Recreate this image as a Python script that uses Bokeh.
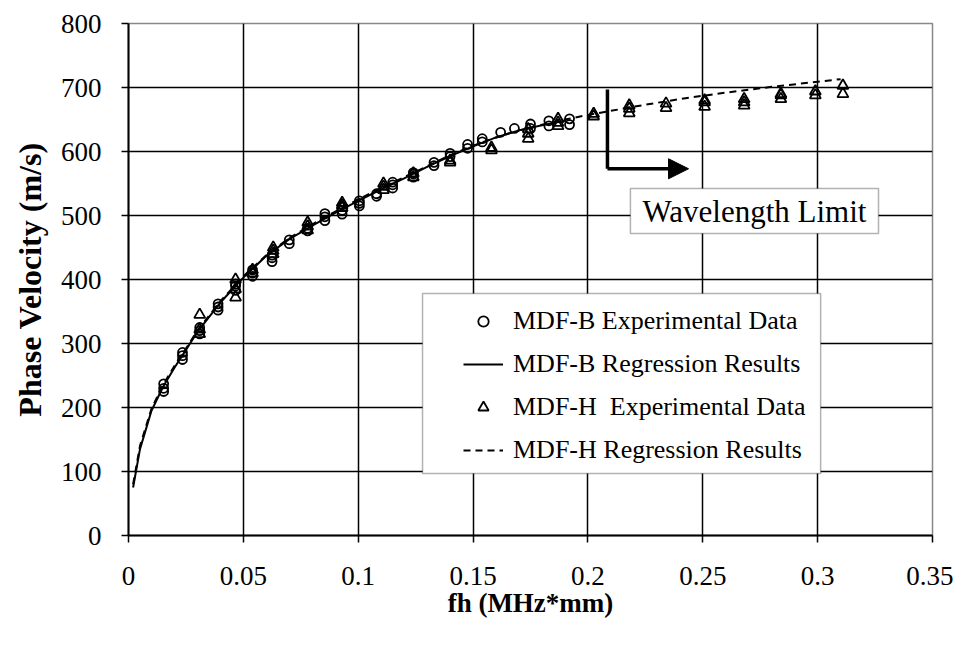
from bokeh.plotting import figure
from bokeh.models import (Range1d, FixedTicker, Legend, LegendItem, BoxAnnotation,
                          Label, Arrow, NormalHead, ColumnDataSource)
from bokeh.embed import file_html
from bokeh.resources import INLINE

FONT = "Liberation Serif, Times New Roman, DejaVu Serif, serif"

# ---- data ----
# MDF-B experimental data (fh in MHz*mm, phase velocity in m/s)
b_fh = [0.0153, 0.0153, 0.0153, 0.0235, 0.0235, 0.0235, 0.031, 0.031, 0.031,
        0.039, 0.039, 0.039, 0.0466, 0.0466, 0.0466, 0.054, 0.054, 0.054,
        0.0625, 0.0625, 0.0625, 0.070, 0.070, 0.078, 0.078, 0.0855, 0.0855, 0.0855,
        0.093, 0.093, 0.1005, 0.1005, 0.1005, 0.108, 0.108, 0.115, 0.115, 0.115,
        0.124, 0.124, 0.124, 0.133, 0.133, 0.140, 0.140, 0.1476, 0.1476,
        0.154, 0.154, 0.162, 0.168, 0.175, 0.175, 0.183, 0.183, 0.192, 0.192]
b_v = [225, 230, 237, 275, 281, 286, 315, 320, 325,
       352, 357, 362, 383, 390, 393, 405, 410, 415,
       428, 434, 438, 456, 462, 476, 480, 492, 498, 503,
       502, 508, 515, 519, 523, 530, 534, 543, 548, 552,
       560, 565, 567, 578, 583, 592, 597, 605, 611,
       615, 620, 630, 636, 636, 643, 640, 648, 642, 651]

# MDF-H experimental data
h_fh = [0.031, 0.031, 0.031, 0.0466, 0.0466, 0.0466, 0.054, 0.054,
        0.063, 0.063, 0.063, 0.078, 0.078, 0.078, 0.093, 0.093, 0.093,
        0.111, 0.111, 0.111, 0.124, 0.124, 0.140, 0.140, 0.158, 0.158,
        0.174, 0.174, 0.174, 0.187, 0.187, 0.187, 0.2025, 0.2025,
        0.218, 0.218, 0.218, 0.234, 0.234, 0.2508, 0.2508, 0.2508,
        0.268, 0.268, 0.268, 0.284, 0.284, 0.284, 0.299, 0.299, 0.311, 0.311]
h_v = [315, 322, 345, 372, 385, 400, 410, 415,
       440, 445, 450, 477, 483, 489, 512, 516, 520,
       540, 545, 550, 560, 566, 583, 586, 602, 606,
       620, 628, 635, 640, 645, 651, 655, 659,
       660, 667, 672, 668, 675, 670, 677, 680,
       672, 677, 682, 682, 688, 690, 688, 694, 690, 703]

# regression curves
rb_fh = [0.002, 0.005, 0.01, 0.015, 0.02, 0.025, 0.03, 0.04, 0.05, 0.06, 0.07,
         0.08, 0.09, 0.10, 0.11, 0.12, 0.13, 0.14, 0.15, 0.16, 0.17, 0.18, 0.19]
rb_v = [75, 135, 195, 232, 262, 290, 318, 364, 403, 437, 463,
        484, 504, 523, 541, 558, 576, 593, 608, 622, 633, 641, 648]

rh_fh = [0.002, 0.005, 0.01, 0.015, 0.02, 0.025, 0.03, 0.04, 0.05, 0.06, 0.07,
         0.08, 0.09, 0.10, 0.11, 0.12, 0.13, 0.14, 0.15, 0.16, 0.17, 0.18, 0.19,
         0.20, 0.22, 0.24, 0.26, 0.28, 0.30, 0.31]
rh_v = [80, 140, 198, 235, 265, 292, 320, 366, 405, 438, 465,
        486, 506, 525, 543, 560, 577, 594, 609, 622, 633, 642, 650,
        657, 670, 682, 692, 701, 709, 713]

X_TICKS = [0, 0.05, 0.1, 0.15, 0.2, 0.25, 0.3, 0.35]
X_TICK_LABELS = ["0", "0.05", "0.1", "0.15", "0.2", "0.25", "0.3", "0.35"]
Y_TICKS = [0, 100, 200, 300, 400, 500, 600, 700, 800]

LEGEND_LABELS = ["MDF-B Experimental Data", "MDF-B Regression Results",
                 "MDF-H  Experimental Data", "MDF-H Regression Results"]
ANNOT_TEXT = "Wavelength Limit"

# annotation placement (data units)
LEG_BOX = dict(left=0.128, right=0.3013, bottom=97, top=378)
WL_BOX = dict(left=0.2185, right=0.3265, bottom=472, top=542)
WL_TEXT_XY = (0.2725, 507)
ARROW_X, ARROW_TOP, ARROW_Y, ARROW_END = 0.2085, 697, 573, 0.2438

# ---- figure ----
p = figure(width=953, height=639, output_backend="svg", toolbar_location=None,
           x_range=Range1d(0, 0.35), y_range=Range1d(0, 800),
           min_border_left=128, min_border_right=21, min_border_top=23,
           min_border_bottom=104)
p.background_fill_color = "white"
p.border_fill_color = "white"
p.outline_line_color = "#888888"
p.outline_line_width = 1.5

p.xaxis.ticker = FixedTicker(ticks=X_TICKS)
p.xaxis.major_label_overrides = {t: l for t, l in zip(X_TICKS, X_TICK_LABELS)}
p.yaxis.ticker = FixedTicker(ticks=Y_TICKS)

for ax in (p.xaxis, p.yaxis):
    ax.axis_line_color = "black"
    ax.axis_line_width = 2
    ax.major_tick_line_color = "black"
    ax.major_tick_line_width = 1.5
    ax.major_tick_out = 7
    ax.major_tick_in = 0
    ax.minor_tick_line_color = None
    ax.major_label_text_font = FONT
    ax.major_label_text_font_size = "27px"
    ax.major_label_text_color = "black"
    ax.axis_label_text_font = FONT
    ax.axis_label_text_font_style = "bold"
    ax.axis_label_text_color = "black"

p.xaxis.axis_label_text_font_size = "27px"
p.yaxis.axis_label_text_font_size = "32px"
p.xaxis.axis_label = "fh (MHz*mm)"
p.yaxis.axis_label = "Phase Velocity (m/s)"
p.xaxis.major_label_standoff = 24
p.yaxis.major_label_standoff = 20
p.xaxis.axis_label_standoff = 0
p.yaxis.axis_label_standoff = 10

p.xgrid.grid_line_color = "black"
p.xgrid.grid_line_width = 1.5
p.ygrid.grid_line_color = "black"
p.ygrid.grid_line_width = 1.5

src_b = ColumnDataSource(dict(x=b_fh, y=b_v))
src_h = ColumnDataSource(dict(x=h_fh, y=h_v))
src_rb = ColumnDataSource(dict(x=rb_fh, y=rb_v))
src_rh = ColumnDataSource(dict(x=rh_fh, y=rh_v))

r_rb = p.line("x", "y", source=src_rb, line_color="black", line_width=2)
r_rh = p.line("x", "y", source=src_rh, line_color="black", line_width=2,
              line_dash="7 5")
r_b = p.scatter("x", "y", source=src_b, marker="circle", size=9,
                fill_color=None, line_color="black", line_width=1.8)
r_h = p.scatter("x", "y", source=src_h, marker="triangle", size=11,
                fill_color=None, line_color="black", line_width=1.8)

# arrow
p.add_layout(Arrow(end=None, x_start=ARROW_X, y_start=ARROW_TOP, x_end=ARROW_X,
                   y_end=ARROW_Y, line_width=3.5, line_color="black"))
p.add_layout(Arrow(end=NormalHead(size=20, fill_color="black", line_color="black"),
                   x_start=ARROW_X, y_start=ARROW_Y, x_end=ARROW_END, y_end=ARROW_Y,
                   line_width=3.5, line_color="black"))

# wavelength limit box
p.add_layout(BoxAnnotation(**WL_BOX, fill_color="white", fill_alpha=1,
                           line_color="black", line_width=1.5, level="annotation"))
p.add_layout(Label(x=WL_TEXT_XY[0], y=WL_TEXT_XY[1], text=ANNOT_TEXT,
                   text_align="center", text_baseline="middle",
                   text_font=FONT, text_font_size="31px", text_color="black"))

# legend box + legend
p.add_layout(BoxAnnotation(**LEG_BOX, fill_color="white", fill_alpha=1,
                           line_color="black", line_width=1.5, level="annotation"))
legend = Legend(items=[LegendItem(label=LEGEND_LABELS[0], renderers=[r_b]),
                       LegendItem(label=LEGEND_LABELS[1], renderers=[r_rb]),
                       LegendItem(label=LEGEND_LABELS[2], renderers=[r_h]),
                       LegendItem(label=LEGEND_LABELS[3], renderers=[r_rh])],
                location=(335, 70), margin=0, padding=0,
                border_line_color=None, background_fill_alpha=0,
                glyph_width=40, glyph_height=26, label_height=26, spacing=13,
                label_standoff=10, label_text_font=FONT,
                label_text_font_size="26px", label_text_color="black")
p.add_layout(legend, "center")

open("out.html", "w").write(file_html(p, INLINE))
